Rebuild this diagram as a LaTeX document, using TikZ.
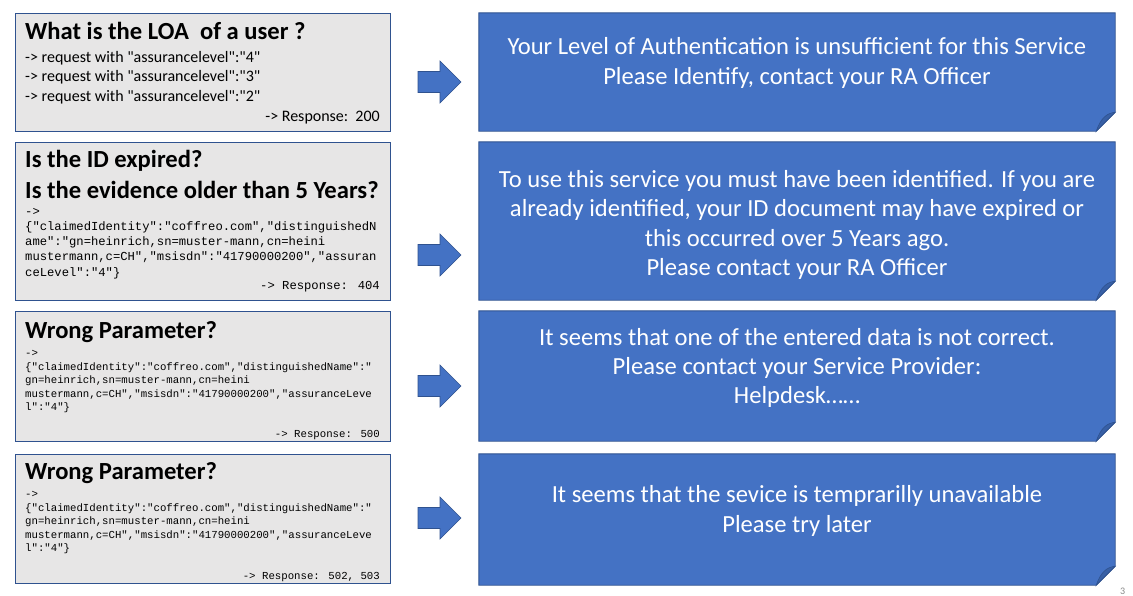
\documentclass[tikz,border=0pt]{standalone}
\usepackage{fontspec}
\setmainfont{Carlito}[Ligatures=TeXOff]
\newfontfamily\codefont{Liberation Mono}[Ligatures=TeXOff]
\usetikzlibrary{calc}
\definecolor{boxblue}{HTML}{4472C4}
\definecolor{edgeblue}{HTML}{2F528F}
\definecolor{panelgray}{HTML}{E7E6E6}
\definecolor{folddark}{HTML}{3860A6}
\definecolor{pagenum}{HTML}{898989}
\tikzset{
  leftpanel/.style={draw=edgeblue, line width=0.9pt, fill=panelgray, inner sep=0pt, minimum width=375pt},
  rightpanel/.style={inner sep=0pt, minimum width=636pt},
  panelline/.style={draw=edgeblue, line width=0.9pt, fill=boxblue},
  foldstyle/.style={draw=edgeblue, line width=0.6pt, fill=folddark},
  blockarrow/.style={draw=edgeblue, line width=0.6pt, fill=boxblue},
  head/.style={font=\fontsize{24.6}{29}\selectfont\bfseries, inner sep=0pt, anchor=base west},
  body/.style={font=\fontsize{16}{19.5}\selectfont, inner sep=0pt, anchor=base west},
  codebig/.style={font=\codefont\fontsize{12.2}{15.3}\selectfont, inner sep=0pt, anchor=base west},
  codesmall/.style={font=\codefont\fontsize{10.7}{13.6}\selectfont, inner sep=0pt, anchor=base west},
  msg/.style={font=\fontsize{24.6}{29.3}\selectfont, text=white, align=center, inner sep=0pt},
}
\newcommand{\foldbox}[1]{%
  \draw[panelline] (#1.north west) -- (#1.north east) -- ([yshift=19pt]#1.south east)
    -- ([xshift=-19pt]#1.south east) -- (#1.south west) -- cycle;
  \draw[foldstyle] ([yshift=19pt]#1.south east) .. controls ([xshift=-8pt,yshift=18pt]#1.south east) and ([xshift=-14pt,yshift=14pt]#1.south east) .. ([xshift=-19pt]#1.south east) -- cycle;
}
\newcommand{\barrow}[1]{%
  \draw[blockarrow] ($(418,#1)+(0,-10.5)$) -- ($(440,#1)+(0,-10.5)$) -- ($(440,#1)+(0,-21)$)
    -- (461,#1) -- ($(440,#1)+(0,21)$) -- ($(440,#1)+(0,10.5)$) -- ($(418,#1)+(0,10.5)$) -- cycle;
}
\begin{document}
\begin{tikzpicture}[x=1pt,y=-1pt]
\useasboundingbox (0,0) rectangle (1133,595);
\fill[white] (0,0) rectangle (1133,595);

% left panels
\node[leftpanel, minimum height=118pt] (L1) at (202.5,72) {};
\node[leftpanel, minimum height=158pt] (L2) at (202.5,221) {};
\node[leftpanel, minimum height=130pt] (L3) at (202.5,376) {};
\node[leftpanel, minimum height=129pt] (L4) at (202.5,518.5) {};

% right panels
\node[rightpanel, minimum height=118pt] (R1) at (797,72) {};
\node[rightpanel, minimum height=158pt] (R2) at (797,221) {};
\node[rightpanel, minimum height=130pt] (R3) at (797,376) {};
\node[rightpanel, minimum height=131pt] (R4) at (797,519.5) {};
\foldbox{R1}
\foldbox{R2}
\foldbox{R3}
\foldbox{R4}

% block arrows
\barrow{82}
\barrow{255}
\barrow{386}
\barrow{518}

% panel 1 text
\node[head] (h1) at (25,39) {What is the LOA\ \ of a user ?};
\node[body] (b1a) at (25,62) {-> request with "assurancelevel":"4"};
\node[body] (b1b) at (25,81.5) {-> request with "assurancelevel":"3"};
\node[body] (b1c) at (25,101) {-> request with "assurancelevel":"2"};
\node[body, anchor=base east] (r1) at (380,121) {-> Response:\ \ 200};

% panel 2 text
\node[head] (h2a) at (25,167) {Is the ID expired?};
\node[head] (h2b) at (25,198) {Is the evidence older than 5 Years?};
\node[codebig] (c2a) at (25,215) {->};
\node[codebig] (c2b) at (25,230.3) {\{"claimedIdentity":"coffreo.com","distinguishedN};
\node[codebig] (c2c) at (25,245.6) {ame":"gn=heinrich,sn=muster-mann,cn=heini};
\node[codebig] (c2d) at (25,260.9) {mustermann,c=CH","msisdn":"41790000200","assuran};
\node[codebig] (c2e) at (25,276.2) {ceLevel":"4"\}};
\node[codebig, anchor=base east] (r2) at (380,289.5) {-> Response: 404};

% panel 3 text
\node[head] (h3) at (25,338) {Wrong Parameter?};
\node[codesmall] (c3a) at (25,356.5) {->};
\node[codesmall] (c3b) at (25,370.1) {\{"claimedIdentity":"coffreo.com","distinguishedName":"};
\node[codesmall] (c3c) at (25,383.7) {gn=heinrich,sn=muster-mann,cn=heini};
\node[codesmall] (c3d) at (25,397.3) {mustermann,c=CH","msisdn":"41790000200","assuranceLeve};
\node[codesmall] (c3e) at (25,410.9) {l":"4"\}};
\node[codesmall, anchor=base east] (r3) at (380,437.5) {-> Response: 500};

% panel 4 text
\node[head] (h4) at (25,479) {Wrong Parameter?};
\node[codesmall] (c4a) at (25,497.5) {->};
\node[codesmall] (c4b) at (25,511.1) {\{"claimedIdentity":"coffreo.com","distinguishedName":"};
\node[codesmall] (c4c) at (25,524.7) {gn=heinrich,sn=muster-mann,cn=heini};
\node[codesmall] (c4d) at (25,538.3) {mustermann,c=CH","msisdn":"41790000200","assuranceLeve};
\node[codesmall] (c4e) at (25,551.9) {l":"4"\}};
\node[codesmall, anchor=base east] (r4) at (380,579.5) {-> Response: 502, 503};

% messages
\node[msg] (m1) at (797,63) {Your Level of Authentication is unsufficient for this Service\\Please Identify, contact your RA Officer};
\node[msg] (m2) at (797,225) {To use this service you must have been identified. If you are\\already identified, your ID document may have expired or\\this occurred over 5 Years ago.\\Please contact your RA Officer};
\node[msg] (m3) at (797,368) {It seems that one of the entered data is not correct.\\Please contact your Service Provider:\\Helpdesk……};
\node[msg] (m4) at (797,511) {It seems that the sevice is temprarilly unavailable\\Please try later};

% page number
\node[font=\fontsize{10}{12}\selectfont, text=pagenum, inner sep=0pt, anchor=base west] (pg) at (1120,594) {3};
\end{tikzpicture}
\end{document}
